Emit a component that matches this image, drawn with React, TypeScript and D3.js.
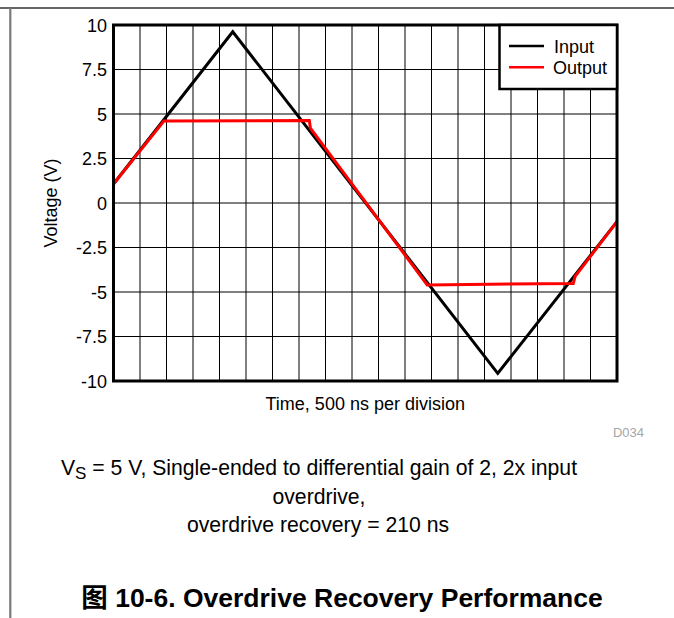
import React from "react";
import * as d3 from "d3";

// ---- Data (time in divisions of 500 ns, voltage in V) ----
const inputTime = [0, 4.5, 14.5, 19];
const inputVoltage = [1.07, 9.62, -9.57, -1.05];

const outputTime = [0, 1.9, 7.39, 7.43, 11.84, 17.35, 17.42, 19];
const outputVoltage = [1.07, 4.6, 4.63, 4.2, -4.6, -4.52, -4.12, -1.05];

const gridDivisions = [1, 2, 3, 4, 5, 6, 7, 8, 9, 10, 11, 12, 13, 14, 15, 16, 17, 18];
const yTicks = [10, 7.5, 5, 2.5, 0, -2.5, -5, -7.5, -10];
const yTickLabels = ["10", "7.5", "5", "2.5", "0", "-2.5", "-5", "-7.5", "-10"];

const seriesNames = ["Input", "Output"];
const seriesColors = ["#000000", "#ff0000"];

const FONT = "'Liberation Sans', Arial, Helvetica, 'Noto Sans CJK SC', sans-serif";

export default function App() {
  const W = 674;
  const H = 618;
  const left = 113.5, right = 617, top = 25, bottom = 381;

  const x = d3.scaleLinear().domain([0, 19]).range([left, right]);
  const y = d3.scaleLinear().domain([-10, 10]).range([bottom, top]);

  const line = d3
    .line<[number, number]>()
    .x((d) => x(d[0]))
    .y((d) => y(d[1]));

  const inputPts = inputTime.map((t, i) => [t, inputVoltage[i]] as [number, number]);
  const outputPts = outputTime.map((t, i) => [t, outputVoltage[i]] as [number, number]);

  const legX = 499.5, legY = top, legW = right - 499.5, legH = 64;

  return (
    <svg
      width={W}
      height={H}
      style={{ position: "absolute", left: 0, top: 0, background: "#fff" }}
      fontFamily={FONT}
    >
      <rect x={0} y={0} width={W} height={H} fill="#fff" />
      {/* page frame lines */}
      <line x1={0} x2={W} y1={8} y2={8} stroke="#333" strokeWidth={1.5} />
      <line x1={10.3} x2={10.3} y1={8} y2={H} stroke="#7a7a7a" strokeWidth={2.2} />

      {/* grid */}
      {gridDivisions.map((d) => (
        <line key={"gx" + d} x1={x(d)} x2={x(d)} y1={top} y2={bottom} stroke="#000" strokeWidth={1} />
      ))}
      {yTicks.slice(1, -1).map((v) => (
        <line key={"gy" + v} x1={left} x2={right} y1={y(v)} y2={y(v)} stroke="#000" strokeWidth={1} />
      ))}

      {/* y tick labels */}
      {yTicks.map((v, i) => (
        <text key={"yl" + v} x={107} y={y(v) + 6.5} textAnchor="end" fontSize={18} fill="#000">
          {yTickLabels[i]}
        </text>
      ))}

      {/* series */}
      <path d={line(inputPts) || ""} fill="none" stroke={seriesColors[0]} strokeWidth={3} />
      <path d={line(outputPts) || ""} fill="none" stroke={seriesColors[1]} strokeWidth={3} />

      {/* plot border */}
      <rect x={left} y={top} width={right - left} height={bottom - top} fill="none" stroke="#000" strokeWidth={3} />

      {/* legend */}
      <rect x={legX} y={legY} width={legW} height={legH} fill="#fff" stroke="#000" strokeWidth={2.5} />
      {seriesNames.map((n, i) => (
        <g key={n}>
          <line x1={509} x2={544} y1={46 + i * 21.3} y2={46 + i * 21.3} stroke={seriesColors[i]} strokeWidth={2.5} />
          <text x={554 - i} y={52.7 + i * 21.3} fontSize={18} fill="#000">
            {n}
          </text>
        </g>
      ))}

      {/* axis titles */}
      <text x={(left + right) / 2} y={409.5} textAnchor="middle" fontSize={18} fill="#000">
        Time, 500 ns per division
      </text>
      <text
        transform={`translate(56.5, ${(top + bottom) / 2}) rotate(-90)`}
        textAnchor="middle"
        fontSize={18}
        fill="#000"
      >
        Voltage (V)
      </text>

      <text x={644} y={437} textAnchor="end" fontSize={13} fill="#a6a6a6">
        D034
      </text>

      {/* caption */}
      <text x={319} y={475} textAnchor="middle" fontSize={21.2} fill="#000">
        V<tspan fontSize={17} dy={4}>S</tspan>
        <tspan dy={-4}> = 5 V, Single-ended to differential gain of 2, 2x input</tspan>
      </text>
      <text x={319} y={504} textAnchor="middle" fontSize={21.2} fill="#000">
        overdrive,
      </text>
      <text x={318} y={531.5} textAnchor="middle" fontSize={21.2} fill="#000">
        overdrive recovery = 210 ns
      </text>

      <text x={342} y={607} textAnchor="middle" fontSize={26.5} fontWeight="bold" fill="#000">
        图 10-6. Overdrive Recovery Performance
      </text>
    </svg>
  );
}
